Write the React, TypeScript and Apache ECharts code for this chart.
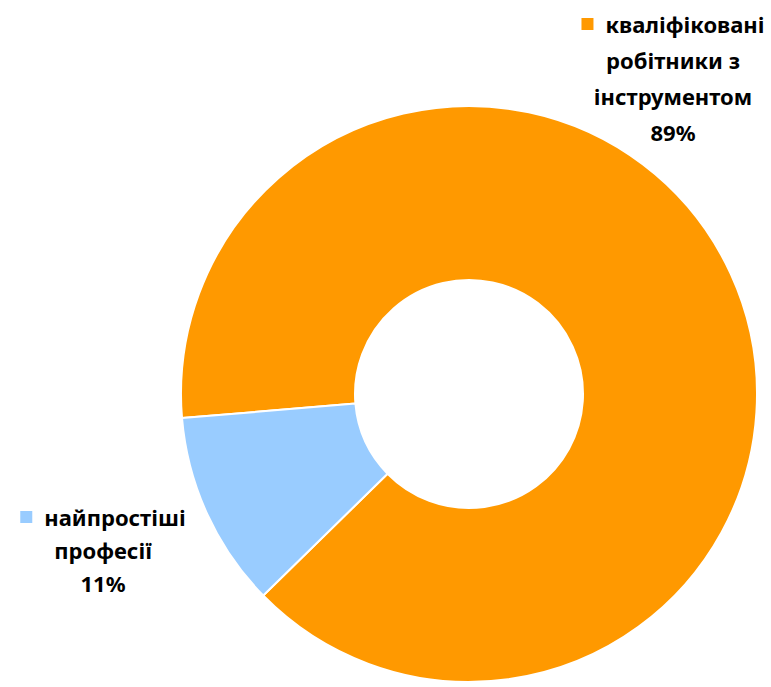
import React, { useEffect, useRef } from "react";
import * as echarts from "echarts";

const categories = ["кваліфіковані робітники з інструментом", "найпростіші професії"];
const values = [89, 11];
const colors = ["#FF9900", "#99CCFF"];

function wrap(name: string, max: number): string[] {
  const words = name.split(" ");
  const lines: string[] = [];
  let cur = "";
  for (const w of words) {
    const next = cur ? cur + " " + w : w;
    if (next.length > max && cur) {
      lines.push(cur);
      cur = w;
    } else cur = next;
  }
  if (cur) lines.push(cur);
  return lines;
}

export default function App() {
  const ref = useRef<HTMLDivElement>(null);
  useEffect(() => {
    document.body.style.margin = "0";
    const chart = echarts.init(ref.current!, undefined, { renderer: "svg" });
    const labelPos = [
      { x: 673, y: 78, lh: 36 },
      { x: 103, y: 550, lh: 33 },
    ];
    chart.setOption({
      animation: false,
      series: [
        {
          type: "pie",
          center: [469, 394],
          radius: [114, 288],
          startAngle: 184.8,
          clockwise: true,
          avoidLabelOverlap: false,
          itemStyle: { borderColor: "#fff", borderWidth: 2 },
          emphasis: { disabled: true },
          labelLine: { show: false },
          data: categories.map((c, i) => ({
            name: c,
            value: values[i],
            itemStyle: { color: colors[i] },
            label: {
              show: true,
              position: "outside",
              align: "center",
              formatter: (p: any) => {
                const lines = wrap(p.name, 13);
                const out = lines.map((l, k) => (k === 0 ? "{m|}{g|}{t|" + l + "}" : "{t|" + l + "}"));
                out.push("{t|" + Math.round(p.percent) + "%}");
                return out.join("\n");
              },
              rich: {
                m: { width: 12, height: 12, backgroundColor: colors[i] },
                g: { width: 12 },
                t: {
                  fontFamily: "Noto Sans",
                  fontWeight: "bold",
                  fontSize: 22,
                  color: "#000",
                  lineHeight: labelPos[i].lh,
                },
              },
            },
          })),
          labelLayout: (p: any) => ({
            x: labelPos[p.dataIndex].x,
            y: labelPos[p.dataIndex].y,
            align: "center",
            verticalAlign: "middle",
          }),
        },
      ],
    });
    return () => chart.dispose();
  }, []);
  return <div ref={ref} style={{ width: 771, height: 687 }} />;
}
